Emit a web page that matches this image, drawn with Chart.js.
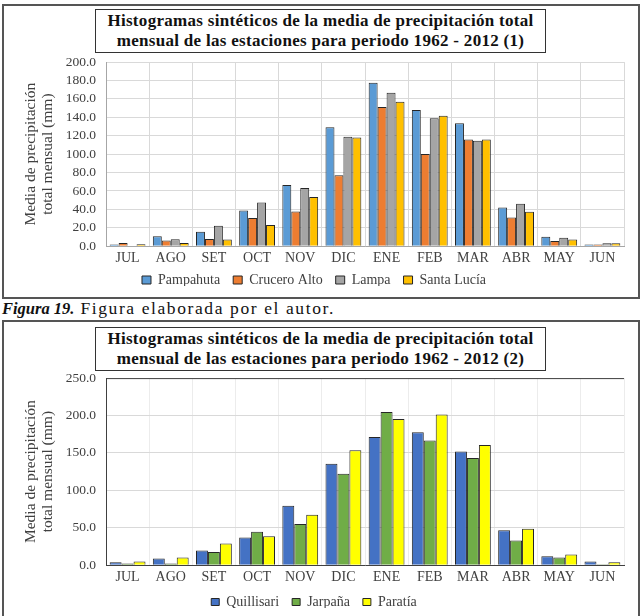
<!DOCTYPE html>
<html>
<head>
<meta charset="utf-8">
<script src="https://cdn.jsdelivr.net/npm/chart.js@4.4.0/dist/chart.umd.min.js"></script>
<style>
  body { margin: 0; background: #fff; width: 642px; height: 616px; overflow: hidden; position: relative; font-family: 'Liberation Serif', 'Times New Roman', serif; }
  .frame { position: absolute; left: 2px; width: 638px; border: 2px solid #555; box-sizing: border-box; }
  #f1 { top: 4px; height: 295px; }
  #f2 { top: 320px; height: 320px; }
  .ttl { position: absolute; left: 95px; width: 451px; border: 1.5px solid #333; box-sizing: border-box; text-align: center; font-weight: bold; font-size: 17px; letter-spacing: 0.3px; line-height: 20px; padding: 1px 0; color: #111; }
  #t1 { top: 9px; }
  #t2 { top: 327px; }
  .cv { position: absolute; left: 4px; }
  #c1 { top: 44px; }
  #c2 { top: 360px; }
  #cap { position: absolute; left: 2px; top: 298px; font-size: 17.5px; letter-spacing: 1.6px; color: #111; }
  #cap b { letter-spacing: 0; font-size: 16.5px; }
</style>
</head>
<body>
<div class="frame" id="f1"></div>
<div class="frame" id="f2"></div>
<div class="ttl" id="t1">Histogramas sintéticos de la media de precipitación total<br>mensual de las estaciones para periodo 1962 - 2012 (1)</div>
<div class="ttl" id="t2">Histogramas sintéticos de la media de precipitación total<br>mensual de las estaciones para periodo 1962 - 2012 (2)</div>
<div id="cap"><b><i>Figura 19.</i></b> Figura elaborada por el autor.</div>
<canvas class="cv" id="c1" width="632" height="253"></canvas>
<canvas class="cv" id="c2" width="632" height="256"></canvas>
<script>
const months = ['JUL', 'AGO', 'SET', 'OCT', 'NOV', 'DIC', 'ENE', 'FEB', 'MAR', 'ABR', 'MAY', 'JUN'];

// figura 1
const pampahuta   = [1.8, 10.8, 15.8, 38.8, 66.4, 129.3, 177.7, 147.9, 133.6, 42.0, 10.4, 1.8];
const cruceroAlto = [3.6, 6.1, 7.9, 30.5, 37.7, 77.2, 151.2, 100.2, 116.0, 31.2, 5.7, 1.8];
const lampa       = [0.5, 7.5, 22.3, 47.4, 63.2, 118.9, 166.6, 139.0, 114.5, 46.0, 9.3, 3.2];
const santaLucia  = [2.0, 3.6, 7.2, 23.0, 53.5, 118.1, 156.9, 141.8, 116.0, 37.3, 7.2, 3.2];

// figura 2
const quillisari = [4.0, 8.9, 19.5, 36.9, 79.5, 135.4, 171.4, 177.6, 151.9, 46.6, 12.0, 4.9];
const jarpana    = [2.2, 2.2, 17.8, 44.8, 55.0, 122.1, 204.7, 166.5, 143.4, 32.9, 10.2, 1.3];
const paratia    = [4.9, 10.2, 28.9, 38.6, 67.5, 153.6, 195.4, 201.2, 160.7, 48.8, 14.2, 4.0];

const serif = "'Liberation Serif', 'Times New Roman', serif";

function ds(label, data, color) {
    return {
        label: label,
        data: data,
        backgroundColor: color,
        borderColor: '#262626',
        borderWidth: 1,
        categoryPercentage: 0.83,
        barPercentage: 1.0
    };
}

// linea superior del area de trazado (solo figura 2)
const topLine = {
    id: 'topLine',
    afterDraw(chart) {
        const a = chart.chartArea, ctx = chart.ctx;
        ctx.save();
        ctx.strokeStyle = '#404040';
        ctx.lineWidth = 1;
        ctx.beginPath();
        ctx.moveTo(a.left, a.top + 0.5);
        ctx.lineTo(a.right, a.top + 0.5);
        ctx.stroke();
        ctx.restore();
    }
};

// sube la leyenda unos px sin perder el espaciado horizontal
const legendShift = {
    id: 'legendShift',
    afterLayout(chart, args, opts) {
        const lg = chart.legend;
        if (lg) {
            lg.top -= opts.dy;
            lg.bottom -= opts.dy;
        }
    }
};

function makeChart(id, datasets, max, step, gridX, axisColor, box, dy, plugins) {
    return new Chart(document.getElementById(id), {
        type: 'bar',
        data: { labels: months, datasets: datasets },
        plugins: plugins.concat([legendShift]),
        options: {
            responsive: false,
            animation: false,
            layout: { padding: { left: 0, right: 12, top: 0, bottom: 0 } },
            plugins: {
                legend: {
                    position: 'bottom',
                    maxHeight: 26,
                    labels: {
                        font: { family: serif, size: 14 },
                        color: '#404040',
                        boxWidth: box,
                        boxHeight: box - 1,
                        padding: 13
                    }
                },
                legendShift: { dy: dy },
                tooltip: { enabled: false }
            },
            scales: {
                x: {
                    grid: { color: gridX, offset: true, drawTicks: false },
                    border: { color: axisColor },
                    ticks: { font: { family: serif, size: 14 }, color: '#404040', padding: 4 }
                },
                y: {
                    min: 0,
                    max: max,
                    ticks: {
                        stepSize: step,
                        autoSkip: false,
                        font: { family: serif, size: 13.5 },
                        color: '#404040',
                        padding: 10,
                        callback: v => v.toFixed(1)
                    },
                    grid: { color: '#d9d9d9', drawTicks: false },
                    border: { color: axisColor },
                    title: {
                        display: true,
                        text: ['Media de precipitación', 'total mensual (mm)'],
                        font: { family: serif, size: 15.5, lineHeight: 1.1 },
                        color: '#404040',
                        padding: { top: 18 }
                    },
                    afterFit: s => { s.width = 102; }
                }
            }
        }
    });
}

makeChart('c1', [
    ds('Pampahuta', pampahuta, '#5b9bd5'),
    ds('Crucero Alto', cruceroAlto, '#ed7d31'),
    ds('Lampa', lampa, '#a5a5a5'),
    ds('Santa Lucía', santaLucia, '#ffc000')
], 200, 20, '#d9d9d9', '#a6a6a6', 9, 11, []);

makeChart('c2', [
    ds('Quillisari', quillisari, '#4472c4'),
    ds('Jarpaña', jarpana, '#70ad47'),
    ds('Paratía', paratia, '#ffff00')
], 250, 50, '#ececec', '#404040', 8, 8, [topLine]);
</script>
</body>
</html>
